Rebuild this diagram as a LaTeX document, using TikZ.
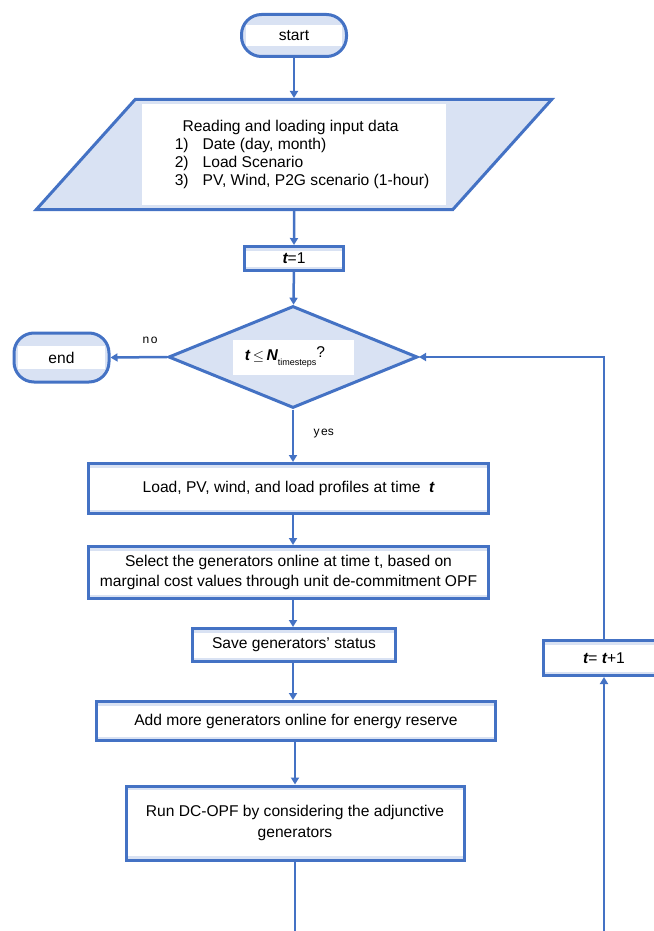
\documentclass[tikz,border=0pt]{standalone}
\usepackage{fontspec}
\setmainfont{Liberation Sans}
\usetikzlibrary{shapes.geometric, arrows.meta}

\definecolor{flowblue}{HTML}{4472C4}
\definecolor{flowpale}{HTML}{D9E2F3}

\newcommand{\tvar}{{\bfseries\itshape t}}

\begin{document}
\begin{tikzpicture}[x=1pt, y=-1pt, font=\fontsize{15.6}{20.5}\selectfont]
    \tikzset{
      base/.style={draw=flowblue, fill=flowpale, line width=3pt, inner sep=0pt, align=center},
      window/.style 2 args={path picture={
        \fill[white, sharp corners] ([shift={(-#1,-#2)}]path picture bounding box.center)
          rectangle ([shift={(#1,#2)}]path picture bounding box.center);}},
      band/.style={path picture={
        \fill[white, sharp corners] ([yshift=-4pt]path picture bounding box.north west)
          rectangle ([yshift=4pt]path picture bounding box.south east);}},
      process/.style 2 args={base, rectangle, band, minimum width=#1, minimum height=#2},
      terminal/.style={base, rectangle, rounded corners=20pt},
      flow/.style={draw=flowblue, line width=2.5pt, -{Triangle[length=7pt, width=8pt]}},
      wire/.style={draw=flowblue, line width=2.5pt},
      answer/.style={font=\fontsize{12}{14}\selectfont},
    }
    \useasboundingbox (0,0) rectangle (653,931);

    % start / end
    \node [terminal, minimum width=105pt, minimum height=42pt, window={48pt}{10.5pt}] (start) at (294,35.5) {start};
    \node [terminal, minimum width=95pt, minimum height=49pt, window={43.5pt}{11.5pt}] (end) at (61.5,357.5) {end};

    % input data
    \node [base, trapezium, trapezium stretches=true, trapezium left angle=40, trapezium right angle=140,
           inner sep=2pt, align=left, font=\fontsize{15.6}{17.7}\selectfont,
           minimum width=516pt, minimum height=110pt, window={152pt}{50pt}] (input) at (294,154.5)
      {\hspace*{16pt}\hspace*{0.5em}Reading and loading input data\\
       \hspace*{16pt}1)\hspace{0.9em}Date (day, month)\\
       \hspace*{16pt}2)\hspace{0.9em}Load Scenario\\
       \hspace*{16pt}3)\hspace{0.9em}PV, Wind, P2G scenario (1-hour)};

    \node [process={99pt}{24pt}] (tone) at (294,258.5) {\tvar=1};

    % loop test
    \node [base, diamond, minimum width=249pt, minimum height=102pt, window={60.5pt}{17.5pt}] (check) at (293,357)
      {\makebox[0pt]{\tvar\,$\le$\,{\bfseries\itshape N}\raisebox{-5pt}{\fontsize{9}{9}\selectfont timesteps}\raisebox{3pt}{?}\hspace*{16pt}}};

    % steps
    \node [process={400pt}{50pt}] (load) at (288.5,488.5) {Load, PV, wind, and load profiles at time \ \tvar};
    \node [process={400pt}{52pt}] (select) at (288.5,572.5) {Select the generators online at time t, based on\\
      marginal cost values through unit de-commitment OPF};
    \node [process={203pt}{33pt}] (save) at (294,645) {Save generators' status};
    \node [process={399pt}{39pt}] (add) at (296,721) {Add more generators online for energy reserve};
    \node [process={338pt}{74pt}] (run) at (295,823) {Run DC-OPF by considering the adjunctive\\ generators};
    \node [process={121pt}{35pt}] (tinc) at (604,658) {\tvar= \tvar+1};

    \coordinate (spinefoot) at (295,935);
    \coordinate (loopfoot) at (604,935);

    \draw [flow] (start) -- (input);
    \draw [flow] (input) -- (tone);
    \draw [flow] (tone) -- (check);
    \draw [flow] (check.west) -- (end.east) node [answer, pos=0.3, above=9pt] (no) {n\kern1.5pt o};
    \draw [flow] (check.south) -- (load.north -| check.south) node [answer, pos=0.45, right=16pt] (yes) {y\kern1.5pt es};
    \draw [flow] (load.south -| check.south) -- (select.north -| check.south);
    \draw [flow] (select.south -| check.south) -- (save.north -| check.south);
    \draw [flow] (save.south -| check.south) -- (add.north -| check.south);
    \draw [flow] (add.south -| run.south) -- (run.north);
    \draw [wire] (run.south) -- (run.south |- spinefoot);
    \draw [flow] (loopfoot) -- (tinc.south);
    \draw [flow] (tinc.north) |- (check.east);
\end{tikzpicture}
\end{document}
